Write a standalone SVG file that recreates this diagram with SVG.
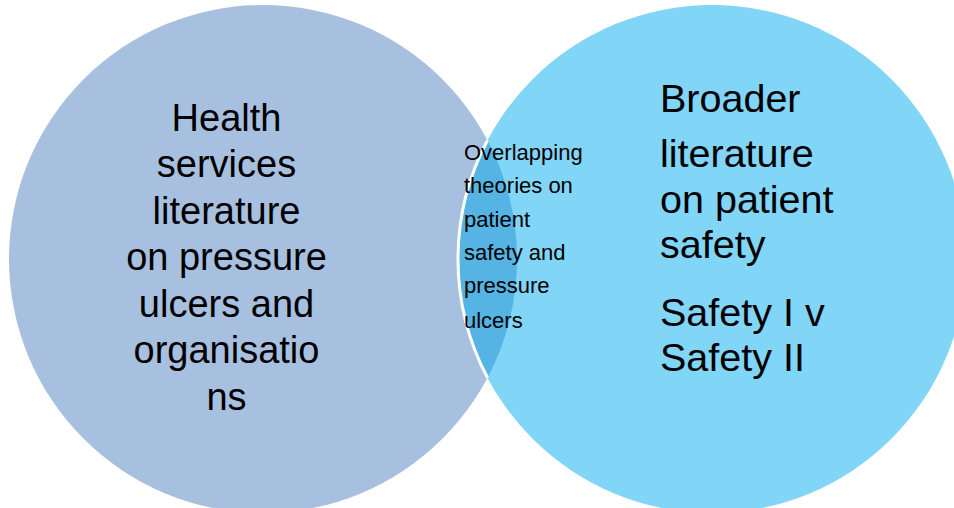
<svg xmlns="http://www.w3.org/2000/svg" width="954" height="508" viewBox="0 0 954 508">
  <style>
    .big { font-family: "Liberation Sans", Arial, sans-serif; font-size: 38px; fill: #000; }
    .bigr { font-family: "Liberation Sans", Arial, sans-serif; font-size: 39.5px; fill: #000; }
    .small { font-family: "Liberation Sans", Arial, sans-serif; font-size: 22px; fill: #000; }
  </style>
  <rect width="954" height="508" fill="#ffffff"/>
  <g id="left-set">
    <circle cx="263" cy="259" r="254" fill="#A8C0DF"/>
  </g>
  <g id="right-set">
    <circle cx="712" cy="259" r="254" fill="#81D5F7"/>
  </g>
  <g id="overlap">
    <path d="M487.5,140.2 A254,254 0 0 0 487.5,377.8 A254,254 0 0 0 487.5,140.2 Z" fill="#55B4E3"/>
    <path d="M487.5,140.2 A254,254 0 0 0 487.5,377.8" fill="none" stroke="#ffffff" stroke-width="3"/>
  </g>
  <g id="left-label" class="big" text-anchor="middle">
    <text x="226.5" y="131">Health</text>
    <text x="226.5" y="177">services</text>
    <text x="226.5" y="224">literature</text>
    <text x="226.5" y="270">on pressure</text>
    <text x="226.5" y="317">ulcers and</text>
    <text x="226.5" y="363">organisatio</text>
    <text x="226.5" y="410">ns</text>
  </g>
  <g id="right-label" class="bigr">
    <text x="660" y="112">Broader</text>
    <text x="660" y="167">literature</text>
    <text x="660" y="213">on patient</text>
    <text x="660" y="258">safety</text>
    <text x="660" y="326">Safety I v</text>
    <text x="660" y="371">Safety II</text>
  </g>
  <g id="overlap-label" class="small">
    <text x="464" y="160">Overlapping</text>
    <text x="464" y="193">theories on</text>
    <text x="464" y="227">patient</text>
    <text x="464" y="260">safety and</text>
    <text x="464" y="293">pressure</text>
    <text x="464" y="328">ulcers</text>
  </g>
  <g id="connectors"/>
</svg>
